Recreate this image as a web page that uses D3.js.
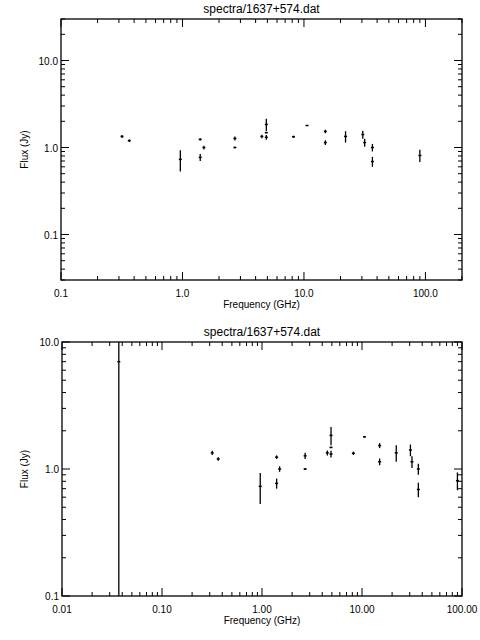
<!DOCTYPE html>
<html><head><meta charset="utf-8">
<script src="https://cdn.jsdelivr.net/npm/d3@7"></script>
<style>body{margin:0;background:#fff}</style></head>
<body><svg id="c" width="480" height="640"></svg>
<script>
const title = "spectra/1637+574.dat";
const freq = [0.037, 0.318, 0.365, 0.96, 1.4, 1.4, 1.5, 2.7, 2.7, 4.5, 4.9, 4.9, 4.9, 8.2, 10.6, 15, 15, 22, 30.5, 31.6, 36.6, 36.6, 90];
const flux = [7.0, 1.34, 1.2, 0.73, 1.24, 0.77, 1.0, 1.27, 1.0, 1.34, 1.31, 1.48, 1.84, 1.33, 1.79, 1.53, 1.14, 1.34, 1.41, 1.14, 1.0, 0.69, 0.81];
const ferr = [7.0, 0.05, 0.04, 0.2, 0.04, 0.07, 0.05, 0.07, 0.02, 0.06, 0.08, 0.02, 0.3, 0.04, 0.02, 0.07, 0.07, 0.2, 0.15, 0.12, 0.1, 0.09, 0.13];
const topXTicks = [0.1, 1, 10, 100], topXLabels = ["0.1", "1.0", "10.0", "100.0"];
const topYTicks = [0.1, 1, 10], topYLabels = ["0.1", "1.0", "10.0"];
const botXTicks = [0.01, 0.1, 1, 10, 100], botXLabels = ["0.01", "0.10", "1.00", "10.00", "100.00"];
const botYTicks = [0.1, 1, 10], botYLabels = ["0.1", "1.0", "10.0"];

const svg = d3.select("#c");
const F = "Liberation Sans, Arial, sans-serif";

function minors(dom) {
  const out = [];
  for (let e = Math.floor(Math.log10(dom[0])) ; e <= Math.ceil(Math.log10(dom[1])); e++)
    for (let m = 1; m < 10; m++) { const v = m * Math.pow(10, e); if (v >= dom[0]*0.999 && v <= dom[1]*1.001) out.push({v, major: m === 1}); }
  return out;
}

function panel(xd, yd, xr, yr, xt, xl, yt, yl) {
  const x = d3.scaleLog().domain(xd).range(xr);
  const y = d3.scaleLog().domain(yd).range(yr);
  const g = svg.append("g");
  const cid = "clip" + Math.random().toString(36).slice(2);
  g.append("clipPath").attr("id", cid).append("rect").attr("x", xr[0]).attr("y", yr[1]).attr("width", xr[1]-xr[0]).attr("height", yr[0]-yr[1]);
  g.append("rect").attr("x", xr[0]).attr("y", yr[1]).attr("width", xr[1]-xr[0]).attr("height", yr[0]-yr[1]).attr("fill", "none").attr("stroke", "#000").attr("stroke-width", 1.3);
  minors(xd).forEach(t => {
    const L = t.major ? 8 : 4, px = x(t.v);
    g.append("line").attr("x1", px).attr("x2", px).attr("y1", yr[0]).attr("y2", yr[0]-L).attr("stroke", "#000");
    g.append("line").attr("x1", px).attr("x2", px).attr("y1", yr[1]).attr("y2", yr[1]+L).attr("stroke", "#000");
  });
  minors(yd).forEach(t => {
    const L = t.major ? 8 : 4, py = y(t.v);
    g.append("line").attr("y1", py).attr("y2", py).attr("x1", xr[0]).attr("x2", xr[0]+L).attr("stroke", "#000");
    g.append("line").attr("y1", py).attr("y2", py).attr("x1", xr[1]).attr("x2", xr[1]-L).attr("stroke", "#000");
  });
  xt.forEach((v, i) => g.append("text").attr("x", x(v)).attr("y", yr[0]+17).attr("text-anchor", "middle").attr("font-family", F).attr("font-size", 10).text(xl[i]));
  yt.forEach((v, i) => g.append("text").attr("x", xr[0]-3).attr("y", y(v)+4).attr("text-anchor", "end").attr("font-family", F).attr("font-size", 10).text(yl[i]));
  g.append("text").attr("x", (xr[0]+xr[1])/2).attr("y", yr[1]-6).attr("text-anchor", "middle").attr("font-family", F).attr("font-size", 12).text(title);
  g.append("text").attr("x", (xr[0]+xr[1])/2).attr("y", yr[0]+28).attr("text-anchor", "middle").attr("font-family", F).attr("font-size", 10).text("Frequency (GHz)");
  g.append("text").attr("transform", `translate(28,${(yr[0]+yr[1])/2}) rotate(-90)`).attr("text-anchor", "middle").attr("font-family", F).attr("font-size", 10).text("Flux (Jy)");
  const d = g.append("g").attr("clip-path", `url(#${cid})`);
  freq.forEach((f, i) => {
    const px = x(f), lo = Math.max(flux[i]-ferr[i], yd[0]*0.5);
    d.append("line").attr("x1", px).attr("x2", px).attr("y1", y(lo)).attr("y2", y(flux[i]+ferr[i])).attr("stroke", "#000").attr("stroke-width", 1.3);
    d.append("line").attr("x1", px-1.5).attr("x2", px+1.5).attr("y1", y(flux[i])).attr("y2", y(flux[i])).attr("stroke", "#000").attr("stroke-width", 1.5);
  });
}

panel([0.1, 200], [0.03, 30], [61, 462], [280, 19], topXTicks, topXLabels, topYTicks, topYLabels);
panel([0.01, 100], [0.1, 10], [62, 462], [596, 342], botXTicks, botXLabels, botYTicks, botYLabels);
</script></body></html>
